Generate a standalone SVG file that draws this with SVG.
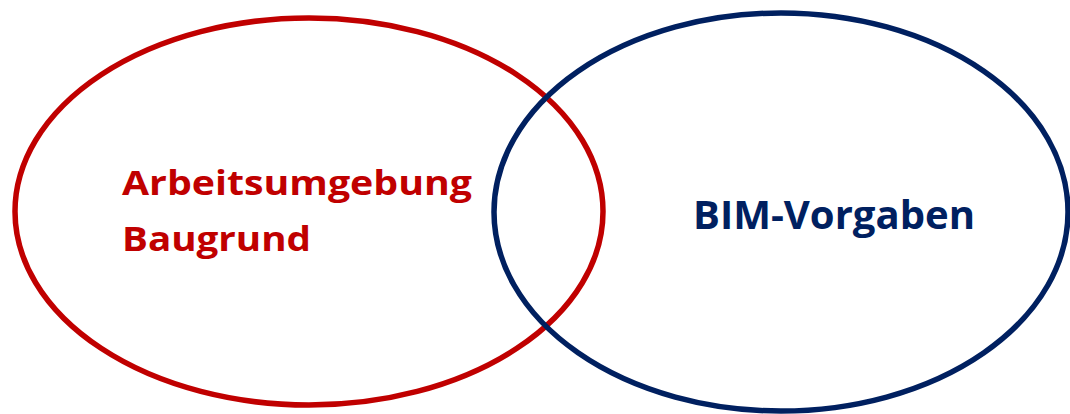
<svg xmlns="http://www.w3.org/2000/svg" width="1070" height="414" viewBox="0 0 1070 414">
<style>
.lbl{font-family:"Open Sans",Lato,"Liberation Sans",sans-serif;font-weight:bold}
.red{fill:#C00000}
.blue{fill:#002060}
</style>
<rect width="1070" height="414" fill="#fff"/>
<g id="set-arbeitsumgebung">
<ellipse cx="309" cy="211.5" rx="294" ry="193.5" fill="none" stroke="#C00000" stroke-width="5.5"/>
<text class="lbl red" x="122" y="195" font-size="34" textLength="350" lengthAdjust="spacingAndGlyphs">Arbeitsumgebung</text>
<text class="lbl red" x="122" y="251" font-size="34" textLength="189" lengthAdjust="spacingAndGlyphs">Baugrund</text>
</g>
<g id="set-bim">
<ellipse cx="781" cy="212" rx="287" ry="199" fill="none" stroke="#002060" stroke-width="5.5"/>
<text class="lbl blue" x="693" y="229" font-size="39" textLength="282" lengthAdjust="spacingAndGlyphs">BIM-Vorgaben</text>
</g>
<g id="connectors"/>
</svg>
